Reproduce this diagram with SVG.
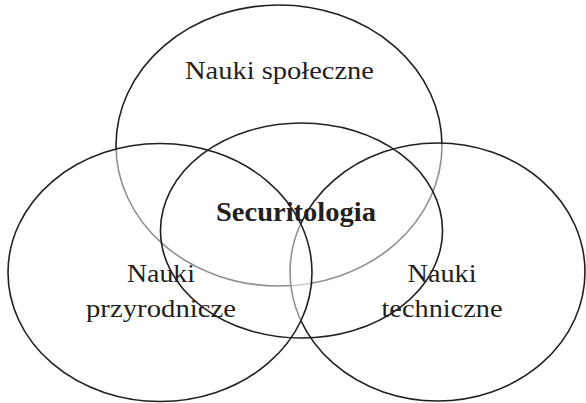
<svg xmlns="http://www.w3.org/2000/svg" width="586" height="403" viewBox="0 0 586 403">
  <style>
    .ring { stroke: #231f20; stroke-width: 1.6; fill: #ffffff; fill-opacity: 0.5; }
    .ring-open { stroke: #231f20; stroke-width: 1.6; fill: none; }
    .lbl { font-family: "Liberation Serif", "Times New Roman", serif; font-size: 26px; fill: #231f20; text-anchor: middle; }
    .bold { font-weight: bold; font-size: 27px; }
  </style>
  <rect x="0" y="0" width="586" height="403" fill="#ffffff"/>
  <g id="nauki-spoleczne">
    <ellipse class="ring" cx="279" cy="145.5" rx="163" ry="140.5"/>
  </g>
  <g id="nauki-techniczne">
    <ellipse class="ring" cx="437.5" cy="272" rx="147.5" ry="129"/>
  </g>
  <g id="nauki-przyrodnicze">
    <ellipse class="ring" cx="160" cy="272.5" rx="152" ry="129"/>
  </g>
  <g id="securitologia">
    <ellipse class="ring-open" cx="301.5" cy="230.5" rx="141" ry="107.5"/>
  </g>
  <g id="connectors"></g>
  <g id="labels">
    <text class="lbl" x="279.5" y="78.5" textLength="189" lengthAdjust="spacingAndGlyphs">Nauki społeczne</text>
    <text class="lbl bold" x="296" y="221" textLength="160" lengthAdjust="spacingAndGlyphs">Securitologia</text>
    <text class="lbl" x="161" y="282" textLength="68" lengthAdjust="spacingAndGlyphs">Nauki</text>
    <text class="lbl" x="161" y="316.5" textLength="150" lengthAdjust="spacingAndGlyphs">przyrodnicze</text>
    <text class="lbl" x="442" y="282" textLength="69" lengthAdjust="spacingAndGlyphs">Nauki</text>
    <text class="lbl" x="442" y="316.5" textLength="121" lengthAdjust="spacingAndGlyphs">techniczne</text>
  </g>
</svg>
